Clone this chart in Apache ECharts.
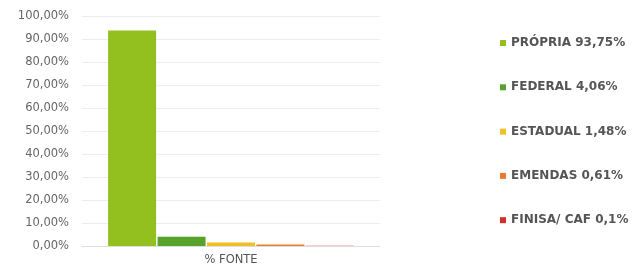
<!DOCTYPE html>
<html>
<head>
<meta charset="utf-8">
<script src="https://cdn.jsdelivr.net/npm/echarts@6/dist/echarts.min.js"></script>
<style>
  html, body { margin: 0; padding: 0; background: #fff; }
  #main { width: 634px; height: 269px; }
</style>
</head>
<body>
<div id="main"></div>
<script>
// dados
var categories = ['% FONTE'];
var seriesNames = ['PRÓPRIA 93,75%', 'FEDERAL 4,06%', 'ESTADUAL 1,48%', 'EMENDAS 0,61%', 'FINISA/ CAF 0,1%'];
var seriesValues = [93.75, 4.06, 1.48, 0.61, 0.1];
var colors = ['#93C01F', '#56A22B', '#F0C02A', '#EE7A2C', '#D0302A'];

var chart = echarts.init(document.getElementById('main'));

var series = seriesNames.map(function (name, i) {
  return {
    name: name,
    type: 'bar',
    barWidth: 48,
    barGap: '3%',
    data: [seriesValues[i]]
  };
});

var option = {
  animation: false,
  color: colors,
  textStyle: { fontFamily: 'DejaVu Sans' },
  grid: { left: 82, right: 254, top: 16, bottom: 23 },
  legend: {
    orient: 'vertical',
    left: 495,
    top: 32,
    itemGap: 32.3,
    itemWidth: 6,
    itemHeight: 6,
    icon: 'rect',
    data: seriesNames,
    textStyle: { color: '#555', fontSize: 12, fontWeight: 'bold', fontFamily: 'DejaVu Sans' }
  },
  xAxis: {
    type: 'category',
    data: categories,
    axisTick: { show: false },
    axisLine: { lineStyle: { color: '#ddd' } },
    axisLabel: { color: '#555', fontSize: 11.5, margin: 8 }
  },
  yAxis: {
    type: 'value',
    min: 0,
    max: 100,
    interval: 10,
    axisLine: { show: false },
    axisTick: { show: false },
    splitLine: { lineStyle: { color: '#eee' } },
    axisLabel: {
      color: '#666',
      fontSize: 11.5,
      margin: 13,
      formatter: function (v) { return v.toFixed(2).replace('.', ',') + '%'; }
    }
  },
  series: series
};

chart.setOption(option);
</script>
</body>
</html>
